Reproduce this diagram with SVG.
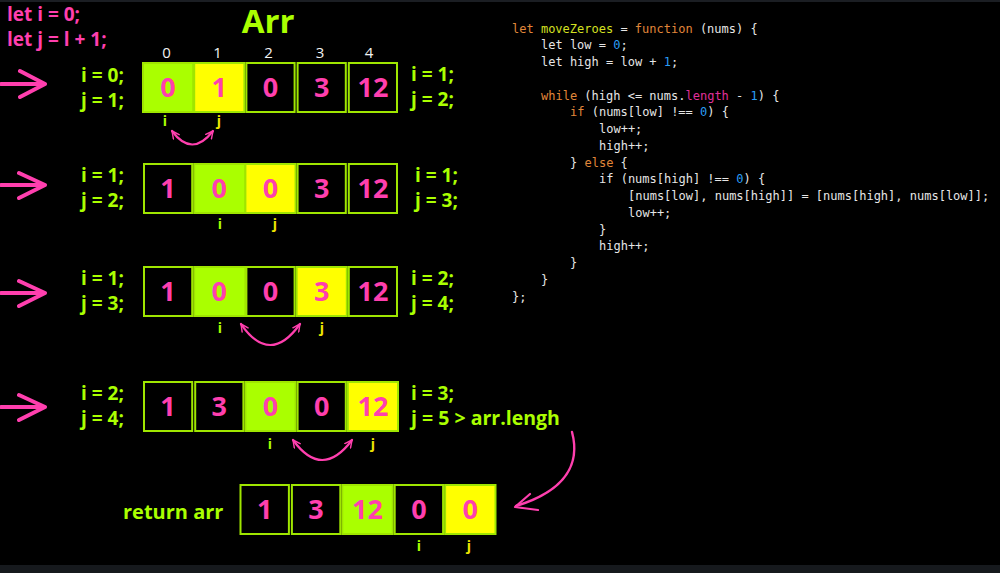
<svg xmlns="http://www.w3.org/2000/svg" width="1000" height="573" viewBox="0 0 1000 573">
<style>
.bg{fill:#000}
.lbl{font-family:"Open Sans","Liberation Sans",sans-serif;font-weight:700;font-size:19px}
.pk{fill:#ff3fae}
.gr{fill:#aaff00}
.idx{font-family:"Open Sans","Liberation Sans",sans-serif;font-size:15px;fill:#f2f2f2;text-anchor:middle}
.cell{stroke:#9fe600;stroke-width:2}
.c0{fill:#000}
.cg{fill:#aaff00}
.cy{fill:#ffff00}
.num{font-family:"Open Sans","Liberation Sans",sans-serif;font-weight:700;font-size:27px;fill:#ff3fae;text-anchor:middle}
.si{font-family:"Open Sans","Liberation Sans",sans-serif;font-weight:700;font-size:14px;fill:#aaff00;text-anchor:middle}
.sj{font-family:"Open Sans","Liberation Sans",sans-serif;font-weight:700;font-size:14px;fill:#eee600;text-anchor:middle}
.arw{fill:none;stroke:#ff3fae;stroke-width:4;stroke-linecap:round;stroke-linejoin:round}
.swap{fill:none;stroke:#ff3fae;stroke-width:2.2;stroke-linecap:round}
.code{font-family:"DejaVu Sans Mono","Liberation Mono",monospace;font-size:12px;fill:#e6e6e6}
.kw{fill:#e0873a}
.fn{fill:#d4e020}
.nb{fill:#2a9df4}
.pr{fill:#e0309a}
</style>
<defs>
<marker id="chev" viewBox="0 0 10 10" refX="9" refY="5" markerWidth="9" markerHeight="9" markerUnits="userSpaceOnUse" orient="auto-start-reverse">
<path d="M1,1 L9,5 L1,9" fill="none" stroke="#ff3fae" stroke-width="1.6" stroke-linecap="round" stroke-linejoin="round"/>
</marker>
</defs>
<rect class="bg" x="0" y="0" width="1000" height="573"/>
<rect x="0" y="0" width="1000" height="2" fill="#1b1e23"/>
<rect x="0" y="565" width="1000" height="8" fill="#16191d"/>

<g id="init">
<text class="lbl pk" x="7" y="21">let i = 0;</text>
<text class="lbl pk" x="7" y="46">let j = l + 1;</text>
</g>
<g id="title">
<text class="lbl gr" x="268" y="33" text-anchor="middle" style="font-size:33px">Arr</text>
<text class="idx" x="166.5" y="58">0</text>
<text class="idx" x="217.5" y="58">1</text>
<text class="idx" x="268.5" y="58">2</text>
<text class="idx" x="320" y="58">3</text>
<text class="idx" x="369" y="58">4</text>
</g>

<g id="connectors">
<path class="arw" d="M1,84 H45 M20,71 L45,84 L20,97"/>
<path class="arw" d="M1,185 H45 M19,173 L45,185 L19,198"/>
<path class="arw" d="M1,293 H45 M19,281 L45,293 L19,306"/>
<path class="arw" d="M1,407 H45 M19,395 L45,407 L19,420"/>
<path class="swap" d="M172,131 Q192,158 213,131" marker-start="url(#chev)" marker-end="url(#chev)"/>
<path class="swap" d="M241,324 Q270,366 300,324" marker-start="url(#chev)" marker-end="url(#chev)"/>
<path class="swap" d="M293,440 Q322,480 352,440" marker-start="url(#chev)" marker-end="url(#chev)"/>
<path d="M572,432 C580,462 568,490 516,506" fill="none" stroke="#ff3fae" stroke-width="2.4" stroke-linecap="round"/>
<path d="M530,494 L515,507 L538,510" fill="none" stroke="#ff3fae" stroke-width="2.2" stroke-linecap="round" stroke-linejoin="round"/>
</g>

<g id="row1">
<text class="lbl gr" x="81" y="82">i = 0;</text>
<text class="lbl gr" x="81" y="107">j = 1;</text>
<rect class="cell cg" x="143" y="63" width="50.2" height="49"/>
<rect class="cell cy" x="194.2" y="63" width="50.2" height="49"/>
<rect class="cell c0" x="246.4" y="63" width="48.2" height="49"/>
<rect class="cell c0" x="297.6" y="63" width="48.2" height="49"/>
<rect class="cell c0" x="348.8" y="63" width="48.2" height="49"/>
<text class="num" x="168.1" y="97">0</text>
<text class="num" x="219.3" y="97">1</text>
<text class="num" x="270.5" y="97">0</text>
<text class="num" x="321.7" y="97">3</text>
<text class="num" x="372.9" y="97">12</text>
<text class="si" x="165" y="126">i</text>
<text class="sj" x="219" y="126">j</text>
<text class="lbl gr" x="411" y="81">i = 1;</text>
<text class="lbl gr" x="411" y="106">j = 2;</text>
</g>

<g id="row2">
<text class="lbl gr" x="81" y="182">i = 1;</text>
<text class="lbl gr" x="81" y="207">j = 2;</text>
<rect class="cell c0" x="144" y="164" width="48.2" height="49"/>
<rect class="cell cg" x="194.2" y="164" width="51.2" height="49"/>
<rect class="cell cy" x="245.4" y="164" width="50.2" height="49"/>
<rect class="cell c0" x="297.6" y="164" width="48.2" height="49"/>
<rect class="cell c0" x="348.8" y="164" width="48.2" height="49"/>
<text class="num" x="168.1" y="198">1</text>
<text class="num" x="219.3" y="198">0</text>
<text class="num" x="270.5" y="198">0</text>
<text class="num" x="321.7" y="198">3</text>
<text class="num" x="372.9" y="198">12</text>
<text class="si" x="220" y="229">i</text>
<text class="sj" x="275" y="229">j</text>
<text class="lbl gr" x="415" y="182">i = 1;</text>
<text class="lbl gr" x="415" y="207">j = 3;</text>
</g>

<g id="row3">
<text class="lbl gr" x="81" y="285">i = 1;</text>
<text class="lbl gr" x="81" y="310">j = 3;</text>
<rect class="cell c0" x="144" y="267" width="48.2" height="49"/>
<rect class="cell cg" x="194.2" y="267" width="51.2" height="49"/>
<rect class="cell c0" x="246.4" y="267" width="48.2" height="49"/>
<rect class="cell cy" x="296.6" y="267" width="50.2" height="49"/>
<rect class="cell c0" x="348.8" y="267" width="48.2" height="49"/>
<text class="num" x="168.1" y="301">1</text>
<text class="num" x="219.3" y="301">0</text>
<text class="num" x="270.5" y="301">0</text>
<text class="num" x="321.7" y="301">3</text>
<text class="num" x="372.9" y="301">12</text>
<text class="si" x="220" y="333">i</text>
<text class="sj" x="322" y="333">j</text>
<text class="lbl gr" x="411" y="285">i = 2;</text>
<text class="lbl gr" x="411" y="310">j = 4;</text>
</g>

<g id="row4">
<text class="lbl gr" x="81" y="400">i = 2;</text>
<text class="lbl gr" x="81" y="425">j = 4;</text>
<rect class="cell c0" x="144" y="382" width="48.2" height="49"/>
<rect class="cell c0" x="195.2" y="382" width="48.2" height="49"/>
<rect class="cell cg" x="245.4" y="382" width="50.2" height="49"/>
<rect class="cell c0" x="297.6" y="382" width="48.2" height="49"/>
<rect class="cell cy" x="347.8" y="382" width="50.2" height="49"/>
<text class="num" x="168.1" y="416">1</text>
<text class="num" x="219.3" y="416">3</text>
<text class="num" x="270.5" y="416">0</text>
<text class="num" x="321.7" y="416">0</text>
<text class="num" x="372.9" y="416">12</text>
<text class="si" x="270" y="449">i</text>
<text class="sj" x="373" y="449">j</text>
<text class="lbl gr" x="411" y="400">i = 3;</text>
<text class="lbl gr" x="411" y="425" style="font-size:19.5px">j = 5 &gt; arr.lengh</text>
</g>

<g id="result">
<text class="lbl gr" x="123" y="519" style="font-size:20px">return arr</text>
<rect class="cell c0" x="240.5" y="485" width="48.4" height="49"/>
<rect class="cell c0" x="291.9" y="485" width="48.4" height="49"/>
<rect class="cell cg" x="342.3" y="485" width="50.4" height="49"/>
<rect class="cell c0" x="394.7" y="485" width="48.4" height="49"/>
<rect class="cell cy" x="445.1" y="485" width="50.4" height="49"/>
<text class="num" x="264.7" y="519">1</text>
<text class="num" x="316.1" y="519">3</text>
<text class="num" x="367.5" y="519">12</text>
<text class="num" x="418.9" y="519">0</text>
<text class="num" x="470.3" y="519">0</text>
<text class="si" x="419" y="551">i</text>
<text class="sj" x="469" y="551">j</text>
</g>

<g id="code" class="code">
<text x="512" y="32.5"><tspan class="kw">let</tspan> <tspan class="fn">moveZeroes</tspan> = <tspan class="kw">function</tspan> (nums) {</text>
<text x="541" y="49.25">let low = <tspan class="nb">0</tspan>;</text>
<text x="541" y="66">let high = low + <tspan class="nb">1</tspan>;</text>
<text x="541" y="99.5"><tspan class="kw">while</tspan> (high &lt;= nums.<tspan class="pr">length</tspan> - <tspan class="nb">1</tspan>) {</text>
<text x="570" y="116.25"><tspan class="kw">if</tspan> (nums[low] !== <tspan class="nb">0</tspan>) {</text>
<text x="599" y="133">low++;</text>
<text x="599" y="149.75">high++;</text>
<text x="570" y="166.5">} <tspan class="kw">else</tspan> {</text>
<text x="599" y="183.25">if (nums[high] !== <tspan class="nb">0</tspan>) {</text>
<text x="628" y="200">[nums[low], nums[high]] = [nums[high], nums[low]];</text>
<text x="628" y="216.75">low++;</text>
<text x="599" y="233.5">}</text>
<text x="599" y="250.25">high++;</text>
<text x="570" y="267">}</text>
<text x="541" y="283.75">}</text>
<text x="512" y="300.5">};</text>
</g>
</svg>
